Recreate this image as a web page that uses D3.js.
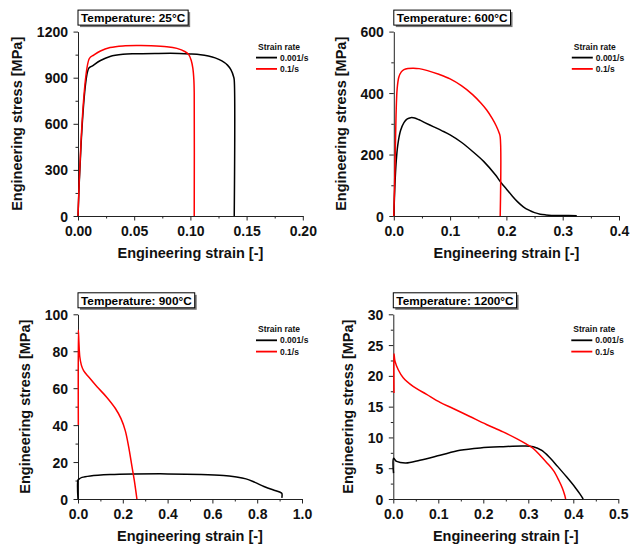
<!DOCTYPE html>
<html>
<head>
<meta charset="utf-8">
<script src="https://cdn.jsdelivr.net/npm/d3@7"></script>
<style>
  body { margin: 0; background: #fff; }
  svg { display: block; font-family: "Liberation Sans", Arial, Helvetica, sans-serif; }
</style>
</head>
<body>
<svg id="chart" width="641" height="549"></svg>
<script>
// ---- Tensile test data: engineering strain [-], engineering stress [MPa] ----
const temperatures = ["25", "600", "900", "1200"];
const strainRates = ["0.001/s", "0.1/s"];
const rateColors = ["#000000", "#ff0000"];

// 25 °C
const t25Slow = [[0,0],[0.0095,960],[0.0125,975],[0.02,1012],[0.0285,1038],[0.04,1052],[0.05,1056],
  [0.07,1058],[0.09,1058],[0.1,1055],[0.109,1050],[0.116,1041],[0.122,1029],[0.128,1009],[0.133,982],
  [0.136,952],[0.1385,905],[0.139,885],[0.139,0]];
const t25Fast = [[0,0],[0.0101,1025],[0.014,1047],[0.02,1074],[0.0285,1096],[0.04,1107],[0.055,1109],
  [0.065,1108],[0.079,1102],[0.088,1091],[0.0954,1069],[0.0984,1052],[0.1007,1014],[0.1022,960],
  [0.1031,883],[0.1034,800],[0.1034,0]];

// 600 °C
const t600Slow = [[0,0],[0.002,100],[0.004,170],[0.007,230],[0.012,278],[0.018,304],[0.024,316],[0.03,320],
  [0.037,319],[0.045,313],[0.055,304],[0.07,291],[0.085,278],[0.1,264],[0.12,240],[0.14,210],[0.16,177],
  [0.18,135],[0.19,110],[0.2,88],[0.21,66],[0.22,46],[0.23,30],[0.24,19],[0.25,11],[0.26,6],[0.27,3.5],
  [0.28,2],[0.3,1.5],[0.325,1]];
const t600Fast = [[0,0],[0.002,150],[0.004,330],[0.006,415],[0.009,452],[0.013,468],[0.018,476],[0.025,480],
  [0.035,481],[0.045,479.5],[0.06,473],[0.08,461],[0.1,446],[0.12,424],[0.14,395],[0.155,367],[0.165,345],
  [0.175,317],[0.182,293],[0.187,271],[0.189,257],[0.189,0]];

// 900 °C
const t900Slow = [[0,0],[0,10.3],[0.0045,10.8],[0.018,11.7],[0.055,12.5],[0.144,13.2],[0.25,13.5],
  [0.4,13.6],[0.55,13.3],[0.65,12.7],[0.7,12.0],[0.75,10.9],[0.79,9.0],[0.83,6.8],[0.87,5.0],
  [0.9,3.8],[0.91,3.0],[0.91,0.6]];
const t900Fast = [[0.0015,40],[0.0015,91.5],[0.004,85],[0.008,77],[0.015,72.5],[0.025,69.5],[0.048,66],
  [0.085,60.8],[0.129,55],[0.167,49],[0.192,43.5],[0.211,37],[0.226,28.3],[0.241,17.5],[0.251,10.3],
  [0.263,0]];

// 1200 °C
const t1200Slow = [[0.0005,4.2],[0.0005,6.6],[0.0074,6.1],[0.028,5.85],[0.059,6.3],[0.104,7.1],[0.148,7.9],
  [0.193,8.3],[0.244,8.5],[0.289,8.6],[0.311,8.5],[0.33,7.9],[0.348,6.7],[0.365,5.3],[0.385,3.6],
  [0.405,1.8],[0.415,0.8],[0.422,0]];
const t1200Fast = [[0.0015,17.2],[0.0015,23.6],[0.0037,22.4],[0.011,21],[0.022,19.7],[0.044,18.3],[0.074,17],
  [0.104,15.7],[0.133,14.7],[0.17,13.4],[0.207,12.1],[0.244,10.9],[0.274,9.8],[0.296,8.9],[0.311,8.2],
  [0.326,7.1],[0.341,5.9],[0.356,4.6],[0.368,3.0],[0.376,1.7],[0.381,0.6],[0.383,0]];

// Axis ranges and ticks
const xMax = [0.2, 0.4, 1.0, 0.5];
const yMax = [1200, 600, 100, 30];
const xMajor = [[0,0.05,0.1,0.15,0.2],[0,0.1,0.2,0.3,0.4],[0,0.2,0.4,0.6,0.8,1.0],[0,0.1,0.2,0.3,0.4,0.5]];
const xMinor = [[0.025,0.075,0.125,0.175],[0.05,0.15,0.25,0.35],[0.1,0.3,0.5,0.7,0.9],[0.05,0.15,0.25,0.35,0.45]];
const xFormat = [".2f", ".1f", ".1f", ".1f"];
const yMajor = [[0,300,600,900,1200],[0,200,400,600],[0,20,40,60,80,100],[0,5,10,15,20,25,30]];
const yMinor = [[150,450,750,1050],[100,300,500],[10,30,50,70,90],[2.5,7.5,12.5,17.5,22.5,27.5]];

const series = [[t25Slow, t25Fast], [t600Slow, t600Fast], [t900Slow, t900Fast], [t1200Slow, t1200Fast]];

const xTitle = "Engineering strain [-]";
const yTitle = "Engineering stress [MPa]";
const legendTitle = "Strain rate";

// ---- Layout of the 2x2 grid ----
const frames = [
  {x0: 78,    x1: 302.8, y0: 31.6,  y1: 216},
  {x0: 393.8, x1: 619,   y0: 31.6,  y1: 216},
  {x0: 78,    x1: 302,   y0: 314.3, y1: 499},
  {x0: 393.3, x1: 618.3, y0: 314.3, y1: 499}
];

const svg = d3.select("#chart");
const axisColor = "#222";

frames.forEach((f, i) => {
  const g = svg.append("g");
  const x = d3.scaleLinear().domain([0, xMax[i]]).range([f.x0, f.x1]);
  const y = d3.scaleLinear().domain([0, yMax[i]]).range([f.y1, f.y0]);

  // minor ticks
  g.append("g").attr("transform", `translate(0,${f.y1})`)
    .call(d3.axisBottom(x).tickValues(xMinor[i]).tickSize(2.5).tickFormat("").tickSizeOuter(0))
    .call(s => s.select(".domain").remove())
    .call(s => s.selectAll("line").attr("stroke", axisColor));
  g.append("g").attr("transform", `translate(${f.x0},0)`)
    .call(d3.axisLeft(y).tickValues(yMinor[i]).tickSize(2.5).tickFormat("").tickSizeOuter(0))
    .call(s => s.select(".domain").remove())
    .call(s => s.selectAll("line").attr("stroke", axisColor));

  // major axes
  const gx = g.append("g").attr("transform", `translate(0,${f.y1})`)
    .call(d3.axisBottom(x).tickValues(xMajor[i]).tickFormat(d3.format(xFormat[i]))
      .tickSize(4.5).tickPadding(5.5).tickSizeOuter(0));
  const gy = g.append("g").attr("transform", `translate(${f.x0},0)`)
    .call(d3.axisLeft(y).tickValues(yMajor[i]).tickFormat(d3.format("d"))
      .tickSize(4.5).tickPadding(5.5).tickSizeOuter(0));
  [gx, gy].forEach(a => {
    a.select(".domain").attr("stroke", axisColor).attr("stroke-width", 1);
    a.selectAll("line").attr("stroke", axisColor);
    a.selectAll("text").attr("fill", "#111").style("font-size", "14px").style("font-weight", "bold")
      .style("font-family", '"Liberation Sans", Arial, sans-serif');
  });
  gy.selectAll("text").attr("dy", "0.36em");

  // axis titles
  g.append("text")
    .attr("x", (f.x0 + f.x1) / 2).attr("y", f.y1 + 41.5)
    .attr("text-anchor", "middle").attr("fill", "#111")
    .style("font-size", "14.5px").style("font-weight", "bold")
    .text(xTitle);
  let maxW = 0;
  gy.selectAll("text").each(function () { maxW = Math.max(maxW, this.getComputedTextLength()); });
  const ty = (f.y0 + f.y1) / 2;
  const tx = f.x0 - 10 - maxW - 14.5;
  g.append("text")
    .attr("transform", `translate(${tx},${ty}) rotate(-90)`)
    .attr("text-anchor", "middle").attr("fill", "#111")
    .style("font-size", "14.5px").style("font-weight", "bold")
    .text(yTitle);

  // curves
  const line = d3.line().x(d => x(d[0])).y(d => y(d[1])).curve(d3.curveCatmullRom.alpha(0.5));
  series[i].forEach((pts, k) => {
    g.append("path").datum(pts)
      .attr("fill", "none").attr("stroke", rateColors[k]).attr("stroke-width", 1.5)
      .attr("stroke-linejoin", "round")
      .attr("d", line);
  });

  // temperature label box with drop shadow
  const tb = g.append("g");
  const label = tb.append("text")
    .attr("x", f.x0 + 3).attr("y", f.y0 - 9.5)
    .attr("fill", "#000")
    .style("font-size", "11.8px").style("font-weight", "bold")
    .text(`Temperature: ${temperatures[i]}°C`);
  const w = label.node().getComputedTextLength() + 6;
  const bx = f.x0, by = f.y0 - 21.5, bh = 15;
  tb.insert("rect", "text").attr("x", bx + 2).attr("y", by + 2).attr("width", w).attr("height", bh)
    .attr("fill", "#777");
  tb.insert("rect", "text").attr("x", bx).attr("y", by).attr("width", w).attr("height", bh)
    .attr("fill", "#fff").attr("stroke", "#000").attr("stroke-width", 1);

  // legend
  const lx = f.x0 + 178, ly = f.y0;
  const lg = g.append("g");
  lg.append("text").attr("x", lx + 2).attr("y", ly + 18)
    .style("font-size", "8.5px").style("font-weight", "bold").attr("fill", "#111")
    .text(legendTitle);
  strainRates.forEach((r, k) => {
    const yy = ly + 26 + k * 11.3;
    lg.append("line").attr("x1", lx).attr("x2", lx + 21).attr("y1", yy).attr("y2", yy)
      .attr("stroke", rateColors[k]).attr("stroke-width", 1.8);
    lg.append("text").attr("x", lx + 24).attr("y", yy + 3)
      .style("font-size", "8.5px").style("font-weight", "bold").attr("fill", "#111")
      .text(r);
  });
});
</script>
</body>
</html>
